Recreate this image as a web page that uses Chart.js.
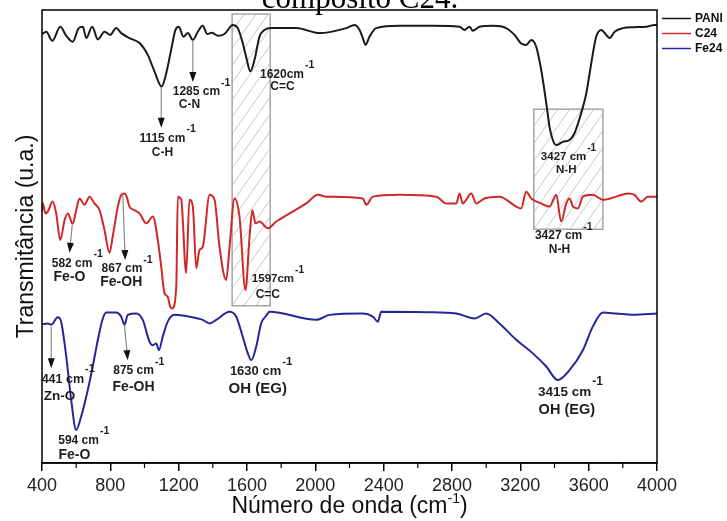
<!DOCTYPE html>
<html lang="pt">
<head>
<meta charset="utf-8">
<title>FTIR - PANI, C24, Fe24</title>
<script src="https://cdn.jsdelivr.net/npm/chart.js@4.4.1/dist/chart.umd.min.js"></script>
<style>
  html, body { margin: 0; padding: 0; background: #fff; }
  #ftir { display: block; }
</style>
</head>
<body>
<canvas id="ftir" width="727" height="521"></canvas>
<script>
// Espectros FTIR: número de onda (cm-1) x transmitância (u.a., curvas deslocadas)
const paniX = [400, 425, 460, 507, 542, 580, 615, 639, 659, 694, 727, 766, 799, 834, 864, 912, 971, 1019, 1059, 1100,
  1127, 1156, 1181, 1201, 1228, 1254, 1283, 1312, 1341, 1367, 1396, 1429, 1468, 1517, 1546, 1575, 1599, 1619, 1644, 1673,
  1702, 1742, 1888, 2025, 2181, 2229, 2259, 2278, 2294, 2317, 2356, 2493, 2686, 2844, 2873, 2903, 2922, 2961, 3039, 3117,
  3166, 3205, 3235, 3264, 3293, 3322, 3352, 3371, 3390, 3410, 3449, 3488, 3517, 3556, 3586, 3615, 3644, 3674, 3703, 3722,
  3752, 3800, 3859, 3937, 3986, 4000];
const paniY = [94.7, 95.2, 93.2, 96.3, 94.3, 93.0, 96.0, 96.3, 93.8, 96.3, 93.5, 95.2, 94.5, 96.0, 94.9, 93.8, 92.7, 90.1, 86.4, 83.1,
  86.0, 91.2, 95.6, 96.3, 94.1, 94.9, 93.4, 95.2, 96.5, 94.7, 95.0, 94.3, 94.7, 96.7, 96.0, 92.7, 89.0, 86.5, 89.0, 94.1,
  95.6, 96.0, 96.0, 94.9, 96.0, 96.7, 95.6, 93.8, 92.3, 94.1, 96.0, 96.5, 96.5, 96.3, 95.6, 96.3, 95.4, 96.3, 96.5, 96.0,
  94.5, 92.6, 92.3, 93.4, 91.9, 86.8, 79.4, 74.2, 71.3, 70.2, 70.9, 71.3, 72.8, 77.2, 81.6, 88.2, 94.1, 95.6, 94.5, 93.8,
  95.2, 96.0, 96.2, 96.3, 96.7, 96.7];

const c24X = [400, 405, 420, 434, 463, 483, 507, 532, 551, 580, 600, 620, 649, 678, 707, 737, 766, 795, 814, 844,
  864, 883, 896, 912, 942, 971, 1010, 1049, 1078, 1098, 1117, 1136, 1150, 1162, 1186, 1195, 1215, 1244, 1263, 1283,
  1303, 1322, 1341, 1381, 1410, 1439, 1478, 1498, 1527, 1556, 1591, 1615, 1631, 1650, 1673, 1722, 1771, 1849, 1947, 2015,
  2064, 2278, 2298, 2337, 2493, 2708, 2766, 2825, 2844, 2863, 2913, 2942, 2990, 3078, 3176, 3205, 3234, 3264, 3322, 3371,
  3410, 3439, 3469, 3488, 3508, 3537, 3566, 3624, 3683, 3761, 3829, 3868, 3908, 3946, 4000];
const c24Y = [55.5, 57.3, 55.1, 55.5, 57.7, 55.1, 49.2, 53.6, 55.1, 52.8, 55.8, 58.4, 57.0, 58.8, 57.3, 55.8, 51.4, 46.4, 50.0, 56.6,
  59.2, 59.5, 58.8, 56.6, 55.8, 55.1, 52.9, 54.4, 49.2, 43.3, 37.5, 36.7, 34.5, 34.1, 38.9, 58.8, 58.1, 41.9, 58.1, 56.6,
  43.0, 47.0, 47.7, 59.2, 58.1, 47.7, 40.4, 47.7, 58.4, 54.4, 38.2, 50.0, 55.8, 52.9, 53.3, 51.8, 53.3, 55.1, 57.3, 59.2,
  58.8, 58.4, 57.0, 58.8, 59.2, 58.8, 57.3, 57.3, 59.5, 57.3, 59.5, 57.3, 58.4, 58.8, 56.6, 56.2, 59.9, 58.4, 57.3, 56.6,
  59.2, 53.3, 57.3, 58.4, 56.6, 56.2, 58.8, 59.2, 58.1, 58.8, 59.5, 59.2, 57.7, 58.8, 58.8];

const fe24X = [400, 434, 454, 492, 512, 542, 571, 600, 629, 668, 697, 727, 756, 776, 834, 864, 883, 902, 951, 990,
  1029, 1049, 1069, 1084, 1107, 1136, 1176, 1263, 1341, 1381, 1420, 1498, 1537, 1575, 1605, 1625, 1654, 1683, 1712, 1732,
  2005, 2083, 2278, 2337, 2366, 2386, 2649, 2825, 2932, 3000, 3078, 3176, 3273, 3352, 3419, 3488, 3566, 3624, 3683, 3761,
  3859, 4000];
const fe24Y = [30.6, 30.8, 30.5, 32.2, 31.2, 23.5, 13.9, 7.3, 10.2, 16.1, 21.3, 27.2, 31.9, 33.2, 33.2, 32.3, 30.5, 32.7, 33.0, 31.6,
  26.8, 26.0, 26.4, 24.9, 27.9, 31.2, 32.7, 32.3, 31.6, 30.8, 31.6, 33.4, 32.3, 27.9, 24.2, 22.7, 25.7, 30.8, 32.5, 33.4,
  31.6, 32.7, 33.0, 32.3, 31.2, 33.4, 33.3, 33.0, 31.9, 33.0, 30.8, 27.2, 24.2, 21.3, 18.3, 20.5, 24.9, 30.1, 33.2, 33.0,
  32.7, 33.0];

const seriesNames = ['PANI', 'C24', 'Fe24'];
const xTicks = [400, 800, 1200, 1600, 2000, 2400, 2800, 3200, 3600, 4000];

// regiões destacadas [x0, x1, y0, y1]
const hatchBoxes = [[1513, 1736, 34.7, 99.1], [3279, 3683, 51.6, 78.1]];

// setas [x de, y de, x para, y para]
const arrows = [
  [1098, 83.0, 1098, 74.0],
  [1283, 93.4, 1283, 84.1],
  [577, 52.5, 561, 46.4],
  [873, 59.2, 887, 44.8],
  [454, 30.1, 454, 20.9],
  [883, 30.5, 902, 22.7],
];

// rótulos das bandas [x, y, texto, expoente, tamanho]
const bandLabels = [
  [1105, 71.7, '1115 cm', '-1', 12], [1105, 68.6, 'C-H', '', 12],
  [1304, 81.9, '1285 cm', '-1', 12], [1263, 79.0, 'C-N', '', 12],
  [1805, 85.7, '1620cm', '-1', 12], [1808, 83.0, 'C=C', '', 12],
  [3453, 67.6, '3427 cm', '-1', 11.5], [3469, 64.7, 'N-H', '', 11.5],
  [3424, 50.1, '3427 cm', '-1', 12], [3429, 47.0, 'N-H', '', 12],
  [576, 44.1, '582 cm', '-1', 12], [561, 41.1, 'Fe-O', '', 14],
  [868, 42.8, '867 cm', '-1', 12], [864, 40.0, 'Fe-OH', '', 14],
  [1752, 40.6, '1597cm', '-1', 11.5], [1722, 37.1, 'C=C', '', 12],
  [522, 18.5, '441 cm', '-1', 12.5], [502, 14.8, 'Zn-O', '', 13.5],
  [614, 4.9, '594 cm', '-1', 12], [590, 1.8, 'Fe-O', '', 14],
  [936, 20.3, '875 cm', '-1', 12], [936, 16.8, 'Fe-OH', '', 14],
  [1650, 20.2, '1630 cm', '-1', 13], [1663, 16.3, 'OH (EG)', '', 15],
  [3459, 15.7, '3415 cm', '-1', 13.5], [3472, 11.7, 'OH (EG)', '', 14.5],
];

const COLORS = ['#1a1a1a', '#d02828', '#26269a'];
const SANS = '"Liberation Sans", Arial, sans-serif';

const toPoints = (xs, ys) => xs.map((x, i) => ({ x, y: ys[i] }));

function drawSupText(ctx, px, py, text, sup, size) {
  ctx.font = `bold ${size}px ${SANS}`;
  ctx.textAlign = 'center';
  ctx.textBaseline = 'middle';
  ctx.fillText(text, px, py);
  if (!sup) return;
  const w = ctx.measureText(text).width;
  ctx.font = `bold ${size - 1.5}px ${SANS}`;
  ctx.textAlign = 'left';
  ctx.fillText(sup, px + w / 2 + 1, py - size * 0.78);
}

const ftirDecor = {
  id: 'ftirDecor',
  beforeDatasetsDraw(chart) {
    const { ctx, scales: { x, y } } = chart;
    hatchBoxes.forEach(([a, b, lo, hi]) => {
      const x0 = x.getPixelForValue(a), x1 = x.getPixelForValue(b);
      const y0 = y.getPixelForValue(hi), y1 = y.getPixelForValue(lo);
      const w = x1 - x0, h = y1 - y0;
      const run = h * 0.7;
      ctx.save();
      ctx.beginPath();
      ctx.rect(x0, y0, w, h);
      ctx.clip();
      ctx.strokeStyle = '#c2c2c2';
      ctx.lineWidth = 0.9;
      ctx.beginPath();
      for (let k = -run; k < w; k += 12) {
        ctx.moveTo(x0 + k, y1);
        ctx.lineTo(x0 + k + run, y0);
      }
      ctx.stroke();
      ctx.restore();
      ctx.save();
      ctx.strokeStyle = '#a6a6a6';
      ctx.lineWidth = 1.5;
      ctx.strokeRect(x0, y0, w, h);
      ctx.restore();
    });
  },
  afterDatasetsDraw(chart) {
    const { ctx, chartArea: area, scales: { x, y } } = chart;
    ctx.save();

    // setas
    arrows.forEach(([xa, ya, xb, yb]) => {
      const p0x = x.getPixelForValue(xa), p0y = y.getPixelForValue(ya);
      const p1x = x.getPixelForValue(xb), p1y = y.getPixelForValue(yb);
      const ang = Math.atan2(p1y - p0y, p1x - p0x);
      ctx.strokeStyle = '#8c8c8c';
      ctx.lineWidth = 1.2;
      ctx.beginPath();
      ctx.moveTo(p0x, p0y);
      ctx.lineTo(p1x - 8 * Math.cos(ang), p1y - 8 * Math.sin(ang));
      ctx.stroke();
      ctx.fillStyle = '#111';
      ctx.beginPath();
      ctx.moveTo(p1x, p1y);
      ctx.lineTo(p1x - 10 * Math.cos(ang) + 3.5 * Math.sin(ang), p1y - 10 * Math.sin(ang) - 3.5 * Math.cos(ang));
      ctx.lineTo(p1x - 10 * Math.cos(ang) - 3.5 * Math.sin(ang), p1y - 10 * Math.sin(ang) + 3.5 * Math.cos(ang));
      ctx.closePath();
      ctx.fill();
    });

    // rótulos
    ctx.fillStyle = '#1e1e1e';
    bandLabels.forEach(([lx, ly, text, sup, size]) => {
      drawSupText(ctx, x.getPixelForValue(lx), y.getPixelForValue(ly), text, sup, size);
    });

    // moldura
    ctx.strokeStyle = '#000';
    ctx.lineWidth = 1.5;
    ctx.strokeRect(area.left, area.top, area.right - area.left, area.bottom - area.top);

    // ticks menores
    ctx.lineWidth = 1.2;
    ctx.beginPath();
    for (let v = 600; v < 4000; v += 400) {
      const px = x.getPixelForValue(v);
      ctx.moveTo(px, area.bottom);
      ctx.lineTo(px, area.bottom + 5);
    }
    ctx.stroke();

    // legenda
    chart.data.datasets.forEach((ds, i) => {
      const ly = area.top + 8.5 + i * 15;
      ctx.strokeStyle = ds.borderColor;
      ctx.lineWidth = 1.5;
      ctx.beginPath();
      ctx.moveTo(area.right + 5, ly);
      ctx.lineTo(area.right + 34, ly);
      ctx.stroke();
      ctx.fillStyle = '#111';
      ctx.font = `bold 12px ${SANS}`;
      ctx.textAlign = 'left';
      ctx.textBaseline = 'middle';
      ctx.fillText(ds.label, area.right + 38, ly + 0.5);
    });

    // títulos dos eixos
    ctx.fillStyle = '#111';
    ctx.font = `23px ${SANS}`;
    ctx.textBaseline = 'alphabetic';
    const xt = 'Número de onda (cm';
    const wMain = ctx.measureText(xt).width;
    const wParen = ctx.measureText(')').width;
    ctx.font = `14px ${SANS}`;
    const wSup = ctx.measureText('-1').width;
    const cx = (area.left + area.right) / 2;
    const sx = cx - (wMain + wSup + wParen) / 2;
    ctx.font = `23px ${SANS}`;
    ctx.textAlign = 'left';
    ctx.fillText(xt, sx, 513);
    ctx.font = `14px ${SANS}`;
    ctx.fillText('-1', sx + wMain, 503);
    ctx.font = `23px ${SANS}`;
    ctx.fillText(')', sx + wMain + wSup, 513);

    ctx.translate(33, (area.top + area.bottom) / 2);
    ctx.rotate(-Math.PI / 2);
    ctx.textAlign = 'center';
    ctx.fillText('Transmitância (u.a.)', 0, 0);
    ctx.restore();
  },
  afterDraw(chart) {
    const { ctx } = chart;
    ctx.save();
    ctx.fillStyle = '#000';
    ctx.font = '31px "Liberation Serif", "Times New Roman", serif';
    ctx.textAlign = 'center';
    ctx.textBaseline = 'alphabetic';
    ctx.fillText('compósito C24.', 360, 8);
    ctx.restore();
  },
};

Chart.defaults.font.family = SANS;

new Chart(document.getElementById('ftir'), {
  type: 'line',
  data: {
    datasets: [
      { label: seriesNames[0], data: toPoints(paniX, paniY) },
      { label: seriesNames[1], data: toPoints(c24X, c24Y) },
      { label: seriesNames[2], data: toPoints(fe24X, fe24Y) },
    ].map((ds, i) => ({
      ...ds,
      borderColor: COLORS[i],
      borderWidth: 2,
      pointRadius: 0,
      fill: false,
      cubicInterpolationMode: 'monotone',
    })),
  },
  options: {
    responsive: false,
    animation: false,
    layout: { padding: { left: 42, top: 10, right: 70, bottom: 0 } },
    scales: {
      x: {
        type: 'linear',
        min: 400,
        max: 4000,
        afterBuildTicks: (s) => { s.ticks = xTicks.map((value) => ({ value })); },
        afterFit: (s) => { s.height = 58; },
        ticks: {
          callback: (v) => String(v),
          font: { size: 18 },
          color: '#222',
          padding: 4,
          maxRotation: 0,
          autoSkip: false,
        },
        grid: { display: true, drawOnChartArea: false, drawTicks: true, tickLength: 8, color: '#000', lineWidth: 1.5 },
        border: { display: true, color: '#000', width: 1.5 },
      },
      y: { display: false, min: 0, max: 100 },
    },
    plugins: { legend: { display: false }, tooltip: { enabled: false } },
  },
  plugins: [ftirDecor],
});
</script>
</body>
</html>
